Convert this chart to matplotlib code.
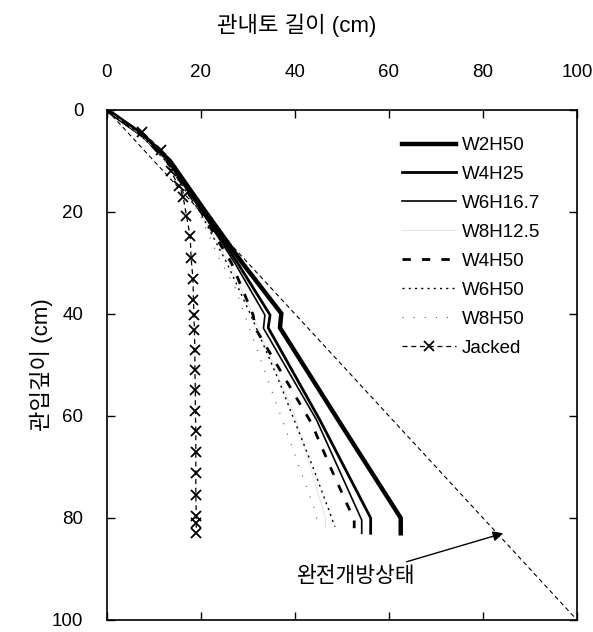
import matplotlib
matplotlib.use("Agg")
import matplotlib.pyplot as plt

plt.rcParams['font.family'] = ['Liberation Sans', 'Noto Sans CJK KR']

# 관입깊이 (y) vs 관내토 길이 (x)
w2h50_y = [0, 5, 10, 20, 30, 39.9, 42.7, 60.8, 80, 83]
w2h50_x = [0, 7.7, 13.4, 21, 28.8, 37.1, 36.8, 49.2, 62.5, 62.5]

w4h25_y = [0, 5, 10, 20, 30, 40.2, 42.7, 60.8, 80, 83]
w4h25_x = [0, 7.5, 13, 20.5, 27.8, 34.7, 34.3, 45.3, 56.1, 56.1]

w6h167_y = [0, 5, 10, 20, 30, 40.2, 42.8, 60.8, 80.4, 83]
w6h167_x = [0, 7.4, 12.8, 20.2, 27.2, 33.6, 33.3, 44.6, 54.2, 54.2]

w8h125_y = [0, 5, 10, 20, 30, 40, 60, 80, 82]
w8h125_x = [0, 7.3, 12.6, 19.8, 26, 31, 40, 46.5, 46.5]

w4h50_y = [0, 5, 10, 20, 30, 40.2, 42.7, 61.4, 70.6, 80.4, 82]
w4h50_x = [0, 7.4, 12.7, 20, 26.5, 31.1, 31.5, 43.5, 47.8, 52.6, 52.6]

w6h50_y = [0, 5, 10, 20, 30, 40, 53.6, 60, 70, 81.7]
w6h50_x = [0, 7.3, 12.5, 19.8, 25.5, 30.5, 36.8, 39.5, 43.8, 48.5]

w8h50_y = [0, 5, 10, 20, 29.4, 34.7, 54.9, 79.4, 81]
w8h50_x = [0, 7.2, 12.4, 19.5, 24, 27.2, 35, 44.6, 44.6]

jacked_y = [0, 4.3, 7.8, 12, 15, 17, 20.7, 24.8, 29, 33.2, 37.2, 40.2, 43.1, 47.1,
            51, 55, 59, 63, 67, 71.2, 75.5, 79.7, 81, 83]
jacked_x = [0, 7.4, 11.6, 13.6, 15.3, 16.2, 16.9, 17.7, 17.9, 18.3, 18.4, 18.5, 18.6, 18.7,
            18.7, 18.8, 18.8, 18.9, 18.9, 18.9, 18.9, 19.0, 19.0, 19.0]
jacked_marked = list(range(1, len(jacked_y)))

open_x = [0, 100]
open_y = [0, 100]

fig = plt.figure(figsize=(5.93, 6.32), dpi=100)
ax = fig.add_axes([0.1804, 0.019, 0.7926, 0.807])

ax.plot(w2h50_x, w2h50_y, color='black', lw=3.2, label='W2H50')
ax.plot(w4h25_x, w4h25_y, color='black', lw=2.0, label='W4H25')
ax.plot(w6h167_x, w6h167_y, color='black', lw=1.2, label='W6H16.7')
ax.plot(w8h125_x, w8h125_y, color='#d8d8d8', lw=0.5, label='W8H12.5')
ax.plot(w4h50_x, w4h50_y, color='black', lw=2.0, dashes=(3, 4), label='W4H50')
ax.plot(w6h50_x, w6h50_y, color='black', lw=1.0, dashes=(1.5, 3), label='W6H50')
ax.plot(w8h50_x, w8h50_y, color='#555555', lw=0.8, dashes=(1, 9), label='W8H50')
ax.plot(jacked_x, jacked_y, color='black', lw=0.9, dashes=(4, 3), marker='x',
        markersize=7, markeredgewidth=1.3, markevery=jacked_marked, label='Jacked')
ax.plot(open_x, open_y, color='black', lw=0.8, dashes=(4, 3))

ax.annotate('완전개방상태', xy=(84.3, 83), xytext=(53, 91.5),
            ha='center', va='center', fontsize=15.5,
            arrowprops=dict(arrowstyle='-|>', color='black', lw=1.0,
                            mutation_scale=15, shrinkA=4, shrinkB=0))

ax.set_xlim(0, 100)
ax.set_ylim(100, 0)
ax.set_xticks([0, 20, 40, 60, 80, 100])
ax.set_yticks([0, 20, 40, 60, 80, 100])
ax.tick_params(axis='both', direction='in', length=6, width=1, labelsize=13.5,
               top=True, bottom=True, left=True, right=True,
               labeltop=True, labelbottom=False)
ax.tick_params(axis='x', pad=21)
ax.tick_params(axis='y', pad=17)
for s in ax.spines.values():
    s.set_linewidth(1.2)

ax.set_ylabel('관입깊이 (cm)', fontsize=16, labelpad=-1)
fig.text(0.5, 0.96, '관내토 길이 (cm)', ha='center', va='center', fontsize=16)

ax.legend(loc='upper left', bbox_to_anchor=(0.627, 0.947), frameon=False,
          fontsize=13.5, handlelength=2.9, handletextpad=0.3, labelspacing=0.63,
          borderpad=0, borderaxespad=0)

fig.savefig('out.png', dpi=100)
